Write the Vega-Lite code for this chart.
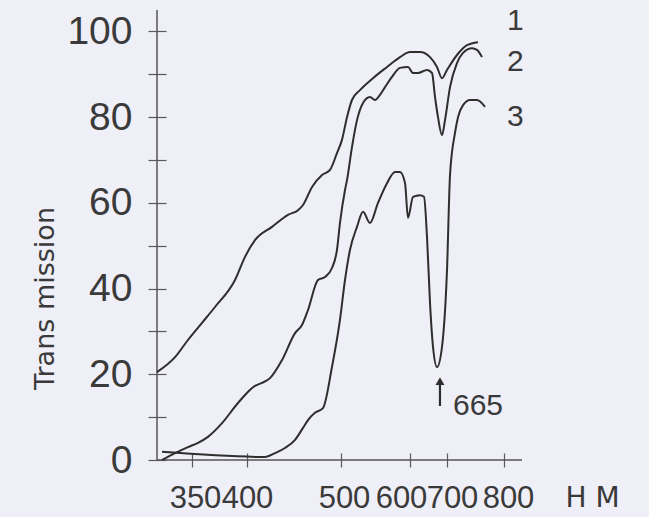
{
  "$schema": "https://vega.github.io/schema/vega-lite/v6.json",
  "autosize": {"type": "none"},
  "width": 365,
  "height": 450,
  "padding": {"left": 157, "top": 10, "right": 127, "bottom": 57},
  "background": "#efeff8",
  "config": {"view": {"stroke": null}},
  "datasets": {
    "curves": [
      {"curve": "1", "wavelength": 318.0, "T": 20.5},
      {"curve": "1", "wavelength": 334.5, "T": 24.0},
      {"curve": "1", "wavelength": 346.3, "T": 28.0},
      {"curve": "1", "wavelength": 359.1, "T": 32.0},
      {"curve": "1", "wavelength": 370.9, "T": 35.7},
      {"curve": "1", "wavelength": 389.1, "T": 42.0},
      {"curve": "1", "wavelength": 398.2, "T": 47.4},
      {"curve": "1", "wavelength": 408.5, "T": 51.3},
      {"curve": "1", "wavelength": 426.6, "T": 54.4},
      {"curve": "1", "wavelength": 443.6, "T": 57.2},
      {"curve": "1", "wavelength": 454.3, "T": 58.3},
      {"curve": "1", "wavelength": 459.6, "T": 59.5},
      {"curve": "1", "wavelength": 469.2, "T": 63.7},
      {"curve": "1", "wavelength": 479.8, "T": 66.5},
      {"curve": "1", "wavelength": 488.3, "T": 67.7},
      {"curve": "1", "wavelength": 495.7, "T": 71.6},
      {"curve": "1", "wavelength": 501.4, "T": 74.7},
      {"curve": "1", "wavelength": 508.7, "T": 80.0},
      {"curve": "1", "wavelength": 515.9, "T": 84.0},
      {"curve": "1", "wavelength": 527.5, "T": 86.3},
      {"curve": "1", "wavelength": 546.4, "T": 89.1},
      {"curve": "1", "wavelength": 566.7, "T": 91.7},
      {"curve": "1", "wavelength": 585.5, "T": 94.0},
      {"curve": "1", "wavelength": 600.0, "T": 95.2},
      {"curve": "1", "wavelength": 627.0, "T": 95.2},
      {"curve": "1", "wavelength": 654.1, "T": 94.0},
      {"curve": "1", "wavelength": 673.0, "T": 91.7},
      {"curve": "1", "wavelength": 686.5, "T": 89.1},
      {"curve": "1", "wavelength": 700.0, "T": 91.0},
      {"curve": "1", "wavelength": 717.5, "T": 94.5},
      {"curve": "1", "wavelength": 735.1, "T": 96.8},
      {"curve": "1", "wavelength": 754.4, "T": 97.5},
      {"curve": "2", "wavelength": 322.6, "T": 0.0},
      {"curve": "2", "wavelength": 334.5, "T": 1.6},
      {"curve": "2", "wavelength": 346.3, "T": 3.0},
      {"curve": "2", "wavelength": 355.5, "T": 4.0},
      {"curve": "2", "wavelength": 364.5, "T": 5.4},
      {"curve": "2", "wavelength": 377.3, "T": 8.6},
      {"curve": "2", "wavelength": 391.8, "T": 13.3},
      {"curve": "2", "wavelength": 408.5, "T": 17.3},
      {"curve": "2", "wavelength": 416.0, "T": 18.0},
      {"curve": "2", "wavelength": 424.5, "T": 19.1},
      {"curve": "2", "wavelength": 437.2, "T": 23.3},
      {"curve": "2", "wavelength": 451.1, "T": 29.6},
      {"curve": "2", "wavelength": 458.5, "T": 31.5},
      {"curve": "2", "wavelength": 464.9, "T": 35.0},
      {"curve": "2", "wavelength": 475.5, "T": 42.0},
      {"curve": "2", "wavelength": 483.0, "T": 42.7},
      {"curve": "2", "wavelength": 490.4, "T": 44.8},
      {"curve": "2", "wavelength": 495.7, "T": 49.0},
      {"curve": "2", "wavelength": 498.9, "T": 55.3},
      {"curve": "2", "wavelength": 505.8, "T": 63.0},
      {"curve": "2", "wavelength": 508.7, "T": 65.3},
      {"curve": "2", "wavelength": 515.9, "T": 73.0},
      {"curve": "2", "wavelength": 523.2, "T": 79.3},
      {"curve": "2", "wavelength": 531.9, "T": 83.3},
      {"curve": "2", "wavelength": 542.0, "T": 84.7},
      {"curve": "2", "wavelength": 549.3, "T": 84.0},
      {"curve": "2", "wavelength": 556.5, "T": 85.2},
      {"curve": "2", "wavelength": 563.8, "T": 87.0},
      {"curve": "2", "wavelength": 573.9, "T": 89.4},
      {"curve": "2", "wavelength": 585.5, "T": 91.5},
      {"curve": "2", "wavelength": 597.1, "T": 91.7},
      {"curve": "2", "wavelength": 608.1, "T": 90.3},
      {"curve": "2", "wavelength": 621.6, "T": 90.3},
      {"curve": "2", "wavelength": 646.0, "T": 91.0},
      {"curve": "2", "wavelength": 659.5, "T": 90.3},
      {"curve": "2", "wavelength": 667.6, "T": 84.7},
      {"curve": "2", "wavelength": 675.7, "T": 80.0},
      {"curve": "2", "wavelength": 686.5, "T": 75.8},
      {"curve": "2", "wavelength": 694.6, "T": 79.3},
      {"curve": "2", "wavelength": 705.3, "T": 87.0},
      {"curve": "2", "wavelength": 717.5, "T": 92.6},
      {"curve": "2", "wavelength": 728.1, "T": 95.0},
      {"curve": "2", "wavelength": 743.9, "T": 96.1},
      {"curve": "2", "wavelength": 752.6, "T": 95.7},
      {"curve": "2", "wavelength": 761.4, "T": 94.0},
      {"curve": "3", "wavelength": 322.6, "T": 1.9},
      {"curve": "3", "wavelength": 419.2, "T": 0.7},
      {"curve": "3", "wavelength": 429.8, "T": 1.6},
      {"curve": "3", "wavelength": 440.4, "T": 2.8},
      {"curve": "3", "wavelength": 451.1, "T": 4.7},
      {"curve": "3", "wavelength": 459.6, "T": 7.5},
      {"curve": "3", "wavelength": 464.9, "T": 9.3},
      {"curve": "3", "wavelength": 472.3, "T": 11.0},
      {"curve": "3", "wavelength": 480.8, "T": 12.1},
      {"curve": "3", "wavelength": 490.4, "T": 21.7},
      {"curve": "3", "wavelength": 498.9, "T": 32.7},
      {"curve": "3", "wavelength": 505.8, "T": 42.0},
      {"curve": "3", "wavelength": 513.0, "T": 49.0},
      {"curve": "3", "wavelength": 523.2, "T": 54.4},
      {"curve": "3", "wavelength": 531.9, "T": 57.9},
      {"curve": "3", "wavelength": 542.0, "T": 55.3},
      {"curve": "3", "wavelength": 553.6, "T": 60.0},
      {"curve": "3", "wavelength": 566.7, "T": 64.6},
      {"curve": "3", "wavelength": 578.3, "T": 67.2},
      {"curve": "3", "wavelength": 585.5, "T": 67.2},
      {"curve": "3", "wavelength": 592.8, "T": 64.6},
      {"curve": "3", "wavelength": 597.1, "T": 56.5},
      {"curve": "3", "wavelength": 608.1, "T": 61.4},
      {"curve": "3", "wavelength": 627.0, "T": 61.8},
      {"curve": "3", "wavelength": 637.8, "T": 61.4},
      {"curve": "3", "wavelength": 646.0, "T": 52.0},
      {"curve": "3", "wavelength": 654.1, "T": 36.6},
      {"curve": "3", "wavelength": 662.2, "T": 26.4},
      {"curve": "3", "wavelength": 673.0, "T": 21.7},
      {"curve": "3", "wavelength": 686.5, "T": 26.4},
      {"curve": "3", "wavelength": 700.0, "T": 44.3},
      {"curve": "3", "wavelength": 705.3, "T": 66.5},
      {"curve": "3", "wavelength": 714.0, "T": 76.3},
      {"curve": "3", "wavelength": 719.3, "T": 80.0},
      {"curve": "3", "wavelength": 728.1, "T": 82.8},
      {"curve": "3", "wavelength": 740.4, "T": 84.0},
      {"curve": "3", "wavelength": 752.6, "T": 84.0},
      {"curve": "3", "wavelength": 766.7, "T": 82.4}
    ],
    "axisLines": [
      {"wavelength": 318, "wavelength2": 832, "T": 0, "T2": 0},
      {"wavelength": 318, "wavelength2": 318, "T": 0, "T2": 105}
    ],
    "curveLabels": [
      {"label": "1", "wavelength": 820, "T": 102.5},
      {"label": "2", "wavelength": 820, "T": 92.9},
      {"label": "3", "wavelength": 820, "T": 80.0}
    ],
    "arrow": [
      {"wavelength": 681, "T": 12.6, "T2": 18.4}
    ],
    "arrowLabel": [
      {"label": "665", "wavelength": 710.5, "T": 12.6}
    ]
  },
  "encoding": {
    "x": {
      "field": "wavelength",
      "type": "quantitative",
      "scale": {
        "domain": [318, 350, 400, 500, 600, 700, 800, 832],
        "range": [0, 35, 90, 184, 253, 290, 347, 365],
        "zero": false,
        "nice": false
      },
      "axis": {
        "orient": "bottom",
        "values": [350, 400, 500, 600, 700, 800],
        "domain": false,
        "offset": -7,
        "tickSize": 14,
        "tickColor": "#5a5a5a",
        "tickWidth": 1.2,
        "grid": false,
        "labelFont": "Liberation Sans",
        "labelFontSize": 31,
        "labelColor": "#3a3a3a",
        "labelPadding": 16,
        "labelFlush": false,
        "labelOverlap": false,
        "labelOffset": {"expr": "datum.value == 350 ? 3 : datum.value == 500 ? 3 : datum.value == 600 ? -9 : datum.value == 700 ? 5 : datum.value == 800 ? 4 : 0"},
        "title": "Н М",
        "titleFont": "DejaVu Sans",
        "titleFontWeight": "normal",
        "titleFontSize": 28,
        "titleColor": "#3a3a3a",
        "titleAlign": "left",
        "titleBaseline": "alphabetic",
        "titleX": 408,
        "titleY": 53
      }
    },
    "y": {
      "field": "T",
      "type": "quantitative",
      "scale": {"domain": [0, 105], "zero": true, "nice": false},
      "axis": {
        "orient": "left",
        "values": [0, 10, 20, 30, 40, 50, 60, 70, 80, 90, 100],
        "labelExpr": "datum.value % 20 == 0 ? datum.label : ''",
        "domain": false,
        "offset": -9,
        "tickSize": 18,
        "tickColor": "#5a5a5a",
        "tickWidth": 1.2,
        "grid": false,
        "labelFont": "Liberation Sans",
        "labelFontSize": 39,
        "labelColor": "#3a3a3a",
        "labelPadding": 16,
        "labelFlush": false,
        "labelOverlap": false,
        "title": "Trans mission",
        "titleFont": "DejaVu Sans",
        "titleFontWeight": "normal",
        "titleFontSize": 27,
        "titleColor": "#3a3a3a",
        "titleBaseline": "middle",
        "titleX": -121,
        "titleY": 288
      }
    }
  },
  "layer": [
    {
      "data": {"name": "axisLines"},
      "mark": {"type": "rule", "stroke": "#555555", "strokeWidth": 1.5},
      "encoding": {
        "x2": {"field": "wavelength2"},
        "y2": {"field": "T2"}
      }
    },
    {
      "data": {"name": "curves"},
      "mark": {"type": "line", "interpolate": "monotone", "stroke": "#2e2e2e", "strokeWidth": 2},
      "encoding": {"detail": {"field": "curve"}}
    },
    {
      "data": {"name": "curveLabels"},
      "mark": {"type": "text", "font": "Liberation Sans", "fontSize": 30, "color": "#3a3a3a", "align": "center", "baseline": "middle"},
      "encoding": {"text": {"field": "label"}}
    },
    {
      "data": {"name": "arrow"},
      "mark": {"type": "rule", "stroke": "#2e2e2e", "strokeWidth": 2.2},
      "encoding": {"y2": {"field": "T2"}}
    },
    {
      "data": {"name": "arrow"},
      "mark": {"type": "point", "shape": "triangle-up", "filled": true, "size": 80, "color": "#2e2e2e", "opacity": 1},
      "encoding": {"y": {"field": "T2"}}
    },
    {
      "data": {"name": "arrowLabel"},
      "mark": {"type": "text", "font": "Liberation Sans", "fontSize": 30, "color": "#3a3a3a", "align": "left", "baseline": "middle"},
      "encoding": {"text": {"field": "label"}}
    }
  ]
}
